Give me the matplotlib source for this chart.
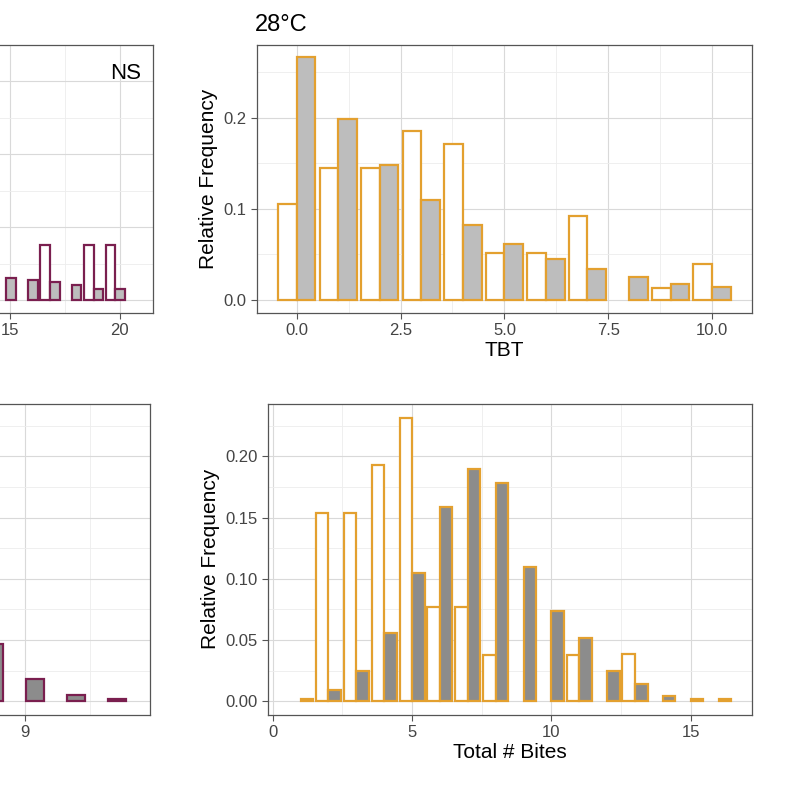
import numpy as np
import matplotlib.pyplot as plt
from matplotlib.ticker import MultipleLocator

plt.rcParams["font.family"] = ["Liberation Sans", "DejaVu Sans"]

# TBT at 28°C (top right)
tbt_bins = np.arange(0, 11)
tbt_white = [0.105, 0.145, 0.145, 0.185, 0.171, 0.052, 0.052, 0.092, 0.0, 0.013, 0.039]
tbt_gray = [0.266, 0.198, 0.148, 0.110, 0.082, 0.061, 0.045, 0.034, 0.025, 0.018, 0.014]

# Total # bites at 28°C (bottom right)
bite_bins = np.arange(1, 17)
bite_white = [0.0, 0.154, 0.154, 0.193, 0.231, 0.077, 0.077, 0.038, 0.0, 0.0,
              0.038, 0.0, 0.039, 0.0, 0.0, 0.0]
bite_gray = [0.0015, 0.009, 0.025, 0.056, 0.105, 0.159, 0.190, 0.178, 0.110, 0.074,
             0.052, 0.025, 0.014, 0.004, 0.0015, 0.0015]

# left panels, only partly visible
left_top_bins = np.arange(14.8, 20.8, 1.0)
left_top_white = [0.0, 0.0, 0.03, 0.0, 0.03, 0.03]
left_top_gray = [0.012, 0.011, 0.010, 0.008, 0.006, 0.006]
left_bot_bins = np.arange(8, 12)
left_bot_gray = [0.047, 0.018, 0.005, 0.002]

gold = "#E3A02F"
purple = "#7A1F4F"
w = 0.45


def bars(ax, x, h, fc, ec):
    x = np.asarray(x, float)
    h = np.asarray(h, float)
    keep = h > 0
    ax.bar(x[keep], h[keep], width=w, color=fc, edgecolor=ec, lw=1.6)


def style(ax):
    ax.grid(True, which="major", color="#d9d9d9", lw=0.8)
    ax.grid(True, which="minor", color="#ededed", lw=0.6)
    ax.set_axisbelow(True)
    for s in ax.spines.values():
        s.set_color("#555555")
        s.set_linewidth(0.9)
    ax.tick_params(which="major", colors="#555555", labelcolor="#444444", labelsize=12, length=4)
    ax.tick_params(which="minor", length=0)


fig = plt.figure(figsize=(8, 7.96), dpi=100)

ax1 = fig.add_axes([0.321, 0.607, 0.619, 0.337])
bars(ax1, tbt_bins - w / 2, tbt_white, "white", gold)
bars(ax1, tbt_bins + w / 2, tbt_gray, "#bdbdbd", gold)
ax1.set_xlim(-0.96, 10.96)
ax1.set_ylim(-0.014, 0.28)
ax1.xaxis.set_major_locator(MultipleLocator(2.5))
ax1.xaxis.set_minor_locator(MultipleLocator(1.25))
ax1.yaxis.set_major_locator(MultipleLocator(0.1))
ax1.yaxis.set_minor_locator(MultipleLocator(0.05))
ax1.xaxis.set_major_formatter(lambda v, p: f"{v:.1f}")
ax1.yaxis.set_major_formatter(lambda v, p: f"{v:.1f}")
ax1.set_xlabel("TBT", fontsize=15, labelpad=2)
ax1.set_ylabel("Relative Frequency", fontsize=15)
ax1.set_title("28°C", loc="left", fontsize=17, x=-0.003, pad=10)
style(ax1)

ax2 = fig.add_axes([0.335, 0.102, 0.605, 0.391])
bars(ax2, bite_bins - w / 2, bite_white, "white", gold)
bars(ax2, bite_bins + w / 2, bite_gray, "#8c8c8c", gold)
ax2.set_xlim(-0.17, 17.2)
ax2.set_ylim(-0.011, 0.243)
ax2.xaxis.set_major_locator(MultipleLocator(5))
ax2.xaxis.set_minor_locator(MultipleLocator(2.5))
ax2.yaxis.set_major_locator(MultipleLocator(0.05))
ax2.yaxis.set_minor_locator(MultipleLocator(0.025))
ax2.yaxis.set_major_formatter(lambda v, p: f"{v:.2f}")
ax2.set_xlabel("Total # Bites", fontsize=15, labelpad=2)
ax2.set_ylabel("Relative Frequency", fontsize=15)
style(ax2)

ax3 = fig.add_axes([-0.3, 0.607, 0.491, 0.337])
bars(ax3, left_top_bins - w / 2, left_top_white, "white", purple)
bars(ax3, left_top_bins + w / 2, left_top_gray, "#bdbdbd", purple)
ax3.set_xlim(3.6, 21.5)
ax3.set_ylim(-0.007, 0.14)
ax3.set_xticks([10, 15, 20])
ax3.set_xticks([12.5, 17.5], minor=True)
ax3.yaxis.set_major_locator(MultipleLocator(0.04))
ax3.yaxis.set_minor_locator(MultipleLocator(0.02))
ax3.tick_params(labelleft=False)
ax3.text(0.97, 0.93, "NS", transform=ax3.transAxes, ha="right", va="top", fontsize=16)
style(ax3)
ax3.tick_params(labelleft=False)

ax4 = fig.add_axes([-0.3, 0.102, 0.4875, 0.391])
bars(ax4, left_bot_bins + w / 2 + 0.02, left_bot_gray, "#8c8c8c", purple)
ax4.set_xlim(2.55, 12.05)
ax4.set_ylim(-0.011, 0.243)
ax4.set_xticks([6, 9])
ax4.set_xticks([7.5, 10.6], minor=True)
ax4.yaxis.set_major_locator(MultipleLocator(0.05))
ax4.yaxis.set_minor_locator(MultipleLocator(0.025))
style(ax4)
ax4.tick_params(labelleft=False)

fig.savefig("out.png", dpi=100)
